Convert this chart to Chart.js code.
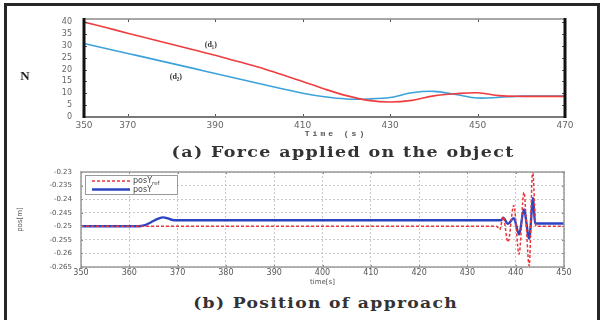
<!DOCTYPE html>
<html>
<head>
<meta charset="utf-8">
<script src="https://cdn.jsdelivr.net/npm/chart.js@4.4.0/dist/chart.umd.min.js"></script>
<style>
html, body { margin: 0; padding: 0; background: #fff; }
body { width: 606px; height: 320px; position: relative; overflow: hidden; }
#frame { position: absolute; left: 4px; top: 3px; width: 596px; height: 340px; border: 3px solid #262626; box-sizing: border-box; }
.cap { position: absolute; font-family: "DejaVu Serif", serif; font-weight: bold; font-size: 15.5px; letter-spacing: 1.2px; color: #333; white-space: nowrap; }
.lbl { position: absolute; white-space: nowrap; transform: translate(-50%, -50%); color: #333; }
canvas { position: absolute; left: 0; }
</style>
</head>
<body>
<div id="frame"></div>
<canvas id="forceChart" width="606" height="140" style="top:0"></canvas>
<canvas id="posChart" width="606" height="132" style="top:158px"></canvas>
<div class="lbl" style="left:25px;top:76px;font:bold 13px 'Liberation Serif',serif;color:#222">N</div>
<div class="lbl" style="left:336px;top:133px;font:bold 8px 'Liberation Mono',monospace;letter-spacing:3px;color:#555">Time (s)</div>
<div class="cap" data-w="343" style="left:343px;top:151px">(a) Force applied on the object</div>
<div class="cap" data-w="265" style="left:326px;top:302px">(b) Position of approach</div>
<script>
// (a) force applied on the object
const forceTime = [360, 365, 370, 375, 380, 385, 390, 395, 400, 405, 410, 415, 420, 425, 430, 435, 440, 445, 450, 455, 460, 465, 470];
const forceD1 = [40, 37.7, 35.3, 33, 30.7, 28.3, 26, 23.5, 21, 18, 15, 11.8, 9, 7, 6.3, 7, 8.9, 9.8, 10.2, 9, 8.7, 8.7, 8.7];
const forceD2 = [31, 28.9, 26.8, 24.7, 22.6, 20.5, 18.3, 16.2, 14.1, 12, 10, 8.5, 7.6, 7.6, 8.2, 10.2, 10.8, 9.5, 8, 8.3, 8.8, 8.8, 8.8];
const forceXTicks = [360, 370, 390, 410, 430, 450, 470];
const forceXTickLabels = ['350', '370', '390', '410', '430', '450', '470'];
const forceYTicks = [0, 5, 10, 15, 20, 25, 30, 35, 40];
const forceNotes = ['(d\u2081)', '(d\u2082)'];
const forceNoteX = [389, 381];
const forceNoteY = [30.2, 17];

// (b) position of approach
const posTime = [350, 362, 363, 364.5, 366, 367, 368, 369, 370, 437, 437.4, 438.4, 439.6, 440.7, 441.7, 442.8, 443.6, 444.0, 450];
const posY = [-0.25, -0.25, -0.2497, -0.2485, -0.2472, -0.2467, -0.2471, -0.2477, -0.2478, -0.2478, -0.2468, -0.2491, -0.247, -0.253, -0.2438, -0.2545, -0.2396, -0.249, -0.249];
const refTime = [350, 436.0, 436.7, 437.4, 438.4, 439.6, 440.7, 441.7, 442.8, 443.5, 444.2, 450];
const posYref = [-0.25, -0.25, -0.2512, -0.2465, -0.2558, -0.2423, -0.2603, -0.2375, -0.2646, -0.2295, -0.25, -0.25];
const posXTicks = [350, 360, 370, 380, 390, 400, 410, 420, 430, 440, 450];
const posYTicks = [-0.265, -0.26, -0.255, -0.25, -0.245, -0.24, -0.235, -0.23];
const posYTickLabels = ['-0.265', '-0.26', '-0.255', '-0.25', '-0.245', '-0.24', '-0.235', '-0.23'];

const pairs = (xs, ys) => xs.map((x, i) => ({ x: x, y: ys[i] }));

// widen the captions to the width they have in the figure
document.querySelectorAll('.cap').forEach(el => {
    const r = el.getBoundingClientRect();
    const k = +el.dataset.w / r.width;
    el.style.left = (parseFloat(el.style.left) - r.width / 2) + 'px';
    el.style.top = (parseFloat(el.style.top) - r.height / 2) + 'px';
    el.style.transformOrigin = '50% 50%';
    el.style.transform = 'scaleX(' + k + ')';
});

// plot box with inward tick marks
const frame = {
    id: 'frame',
    afterDatasetsDraw(chart, args, o) {
        const ctx = chart.ctx;
        const a = chart.chartArea;
        const sx = chart.scales.x, sy = chart.scales.y;
        ctx.save();
        if (o.tick) {
            ctx.strokeStyle = o.tick.color;
            ctx.lineWidth = 1;
            ctx.beginPath();
            sx.ticks.forEach(t => {
                const px = Math.round(sx.getPixelForValue(t.value)) + 0.5;
                ctx.moveTo(px, a.top); ctx.lineTo(px, a.top + o.tick.len);
                ctx.moveTo(px, a.bottom); ctx.lineTo(px, a.bottom - o.tick.len);
            });
            sy.ticks.forEach(t => {
                const py = Math.round(sy.getPixelForValue(t.value)) + 0.5;
                ctx.moveTo(a.left, py); ctx.lineTo(a.left + o.tick.len, py);
                ctx.moveTo(a.right, py); ctx.lineTo(a.right - o.tick.len, py);
            });
            ctx.stroke();
        }
        const side = (s, x1, y1, x2, y2) => {
            ctx.strokeStyle = s.color;
            ctx.lineWidth = s.width;
            ctx.beginPath(); ctx.moveTo(x1, y1); ctx.lineTo(x2, y2); ctx.stroke();
        };
        side(o.top, a.left, a.top, a.right, a.top);
        side(o.bottom, a.left, a.bottom, a.right, a.bottom);
        side(o.left, a.left, a.top - 1, a.left, a.bottom + 1);
        side(o.right, a.right, a.top - 1, a.right, a.bottom + 1);
        ctx.restore();
    }
};

// text notes placed at data coordinates
const notes = {
    id: 'notes',
    afterDatasetsDraw(chart, args, o) {
        if (!o.text) return;
        const ctx = chart.ctx;
        ctx.save();
        ctx.font = o.font;
        ctx.fillStyle = o.color;
        ctx.textAlign = 'center';
        ctx.textBaseline = 'middle';
        o.text.forEach((t, i) => {
            ctx.fillText(t, chart.scales.x.getPixelForValue(o.xs[i]), chart.scales.y.getPixelForValue(o.ys[i]));
        });
        ctx.restore();
    }
};

// boxed legend inside the plot, top left
const boxLegend = {
    id: 'boxLegend',
    afterDraw(chart, args, o) {
        if (!o.show) return;
        const ctx = chart.ctx;
        const a = chart.chartArea;
        const x = a.left + 4, y = a.top + 3;
        ctx.save();
        ctx.fillStyle = '#fff';
        ctx.fillRect(x, y, 92, 19);
        ctx.strokeStyle = '#9a9a9a';
        ctx.lineWidth = 1;
        ctx.strokeRect(x + 0.5, y + 0.5, 92, 19);
        chart.data.datasets.forEach((ds, i) => {
            const ly = y + 6 + i * 8.5;
            ctx.strokeStyle = ds.borderColor;
            ctx.lineWidth = ds.borderWidth;
            ctx.setLineDash(ds.borderDash || []);
            ctx.beginPath(); ctx.moveTo(x + 7, ly); ctx.lineTo(x + 45, ly); ctx.stroke();
            ctx.setLineDash([]);
            ctx.fillStyle = '#444';
            ctx.font = '8px "DejaVu Sans"';
            ctx.textBaseline = 'middle';
            ctx.fillText(ds.label, x + 48, ly);
            if (ds.sub) {
                const w = ctx.measureText(ds.label).width;
                ctx.font = '5.5px "DejaVu Sans"';
                ctx.fillText(ds.sub, x + 48 + w, ly + 2.5);
            }
        });
        ctx.restore();
    }
};

const tickFont = { size: 9, family: '"DejaVu Sans"' };

new Chart(document.getElementById('forceChart'), {
    type: 'line',
    data: {
        datasets: [
            { label: 'd1', data: pairs(forceTime, forceD1), borderColor: '#f03c3f', borderWidth: 1.6, pointRadius: 0, tension: 0.35, fill: false },
            { label: 'd2', data: pairs(forceTime, forceD2), borderColor: '#3ca2dc', borderWidth: 1.6, pointRadius: 0, tension: 0.35, fill: false }
        ]
    },
    options: {
        responsive: false,
        animation: false,
        events: [],
        layout: { padding: { left: 14, top: 19, right: 41, bottom: 0 } },
        plugins: {
            legend: { display: false },
            tooltip: { enabled: false },
            frame: {
                top: { color: '#8a8a8a', width: 1.5 },
                bottom: { color: '#7a7a7a', width: 2 },
                left: { color: '#111', width: 3 },
                right: { color: '#111', width: 3 },
                tick: { color: '#555', len: 3 }
            },
            notes: { text: forceNotes, xs: forceNoteX, ys: forceNoteY, font: 'bold 8px "Liberation Serif"', color: '#333' },
            boxLegend: { show: false }
        },
        scales: {
            x: {
                type: 'linear', min: 360, max: 470,
                afterBuildTicks: s => { s.ticks = forceXTicks.map(v => ({ value: v })); },
                afterFit: s => { s.height = 23; },
                grid: { display: false, drawTicks: false },
                border: { display: false },
                ticks: { autoSkip: false, maxRotation: 0, padding: 3, color: '#666', font: tickFont,
                    callback: (v, i) => forceXTickLabels[i] }
            },
            y: {
                min: 0, max: 41.3,
                afterBuildTicks: s => { s.ticks = forceYTicks.map(v => ({ value: v })); },
                afterFit: s => { s.width = 70; },
                grid: { display: false, drawTicks: false },
                border: { display: false },
                ticks: { autoSkip: false, padding: 12, color: '#666', font: { size: 8, family: '"DejaVu Sans"' },
                    callback: v => String(v) }
            }
        }
    },
    plugins: [frame, notes, boxLegend]
});

new Chart(document.getElementById('posChart'), {
    type: 'line',
    data: {
        datasets: [
            { label: 'posY', sub: 'ref', data: pairs(refTime, posYref), borderColor: '#e8363c', borderWidth: 1.5, borderDash: [3, 2], pointRadius: 0, cubicInterpolationMode: 'monotone', fill: false },
            { label: 'posY', data: pairs(posTime, posY), borderColor: '#2a44c4', borderWidth: 2.4, pointRadius: 0, cubicInterpolationMode: 'monotone', fill: false }
        ]
    },
    options: {
        responsive: false,
        animation: false,
        events: [],
        layout: { padding: { left: 13, top: 14, right: 42, bottom: 0 } },
        plugins: {
            legend: { display: false },
            tooltip: { enabled: false },
            frame: {
                top: { color: '#9a9a9a', width: 1.5 },
                bottom: { color: '#9a9a9a', width: 1.5 },
                left: { color: '#9a9a9a', width: 1.5 },
                right: { color: '#9a9a9a', width: 1.5 },
                tick: { color: '#888', len: 2 }
            },
            notes: { text: null },
            boxLegend: { show: true }
        },
        scales: {
            x: {
                type: 'linear', min: 350, max: 450,
                afterBuildTicks: s => { s.ticks = posXTicks.map(v => ({ value: v })); },
                afterFit: s => { s.height = 23; },
                grid: { color: '#c8c8c8', lineWidth: 1, drawTicks: false },
                border: { display: false, dash: [2, 2] },
                ticks: { autoSkip: false, maxRotation: 0, padding: 1, color: '#555', font: { size: 8, family: '"DejaVu Sans"' },
                    callback: v => String(v) },
                title: { display: true, text: 'time[s]', color: '#555', padding: { top: 0, bottom: 4 },
                    font: { size: 7, family: '"DejaVu Sans"' } }
            },
            y: {
                min: -0.265, max: -0.23,
                afterBuildTicks: s => { s.ticks = posYTicks.map(v => ({ value: v })); },
                afterFit: s => { s.width = 68; },
                grid: { color: '#c8c8c8', lineWidth: 1, drawTicks: false },
                border: { display: false, dash: [2, 2] },
                ticks: { autoSkip: false, padding: 9, color: '#555', font: { size: 7, family: '"DejaVu Sans"' },
                    callback: (v, i) => posYTickLabels[i] },
                title: { display: true, text: 'pos[m]', color: '#555', padding: { top: 3, bottom: 0 },
                    font: { size: 7, family: '"DejaVu Sans"' } }
            }
        }
    },
    plugins: [frame, notes, boxLegend]
});
</script>
</body>
</html>
